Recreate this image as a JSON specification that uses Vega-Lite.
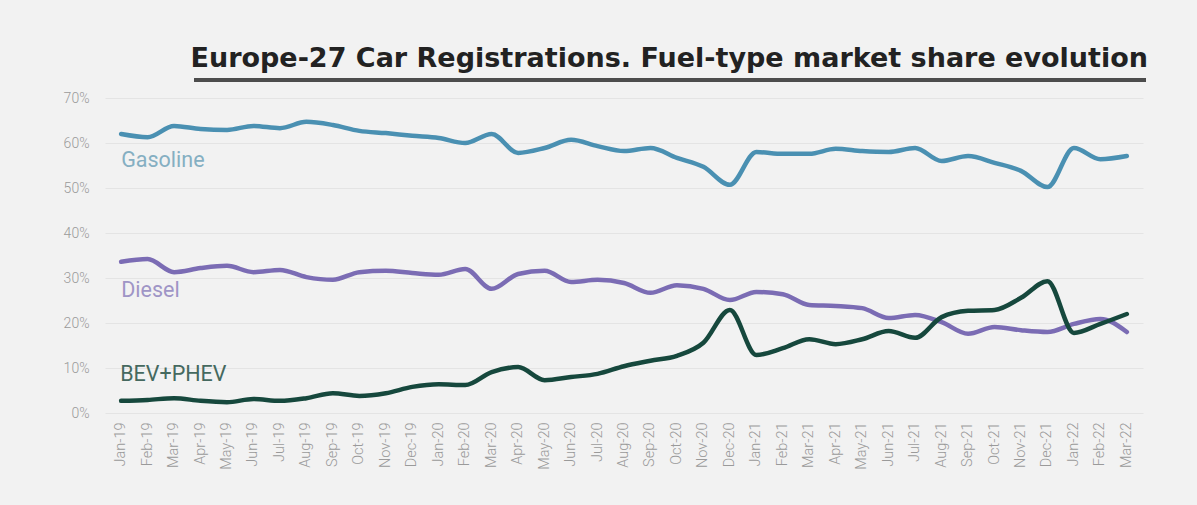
{
  "$schema": "https://vega.github.io/schema/vega-lite/v6.json",
  "autosize": "none",
  "width": 1038,
  "height": 315,
  "padding": {"left": 105, "top": 98, "right": 54, "bottom": 92},
  "background": "#f2f2f2",
  "title": {
    "text": "Europe-27 Car Registrations. Fuel-type market share evolution",
    "anchor": "end",
    "frame": "group",
    "font": "DejaVu Sans",
    "fontSize": 27,
    "fontWeight": "bold",
    "color": "#222222",
    "dx": 5,
    "offset": 6
  },
  "config": {
    "view": {"stroke": null},
    "axis": {"labelFont": "Roboto", "labelFontWeight": 300, "labelColor": "#9a9a9a", "labelFontSize": 14, "gridColor": "#e4e4e4", "domain": false, "ticks": false, "title": null}
  },
  "data": {"values": [
    {"month":"Jan-19","Gasoline":62.0,"Diesel":33.6,"BEV+PHEV":2.7},
    {"month":"Feb-19","Gasoline":61.3,"Diesel":34.2,"BEV+PHEV":2.9},
    {"month":"Mar-19","Gasoline":63.8,"Diesel":31.3,"BEV+PHEV":3.3},
    {"month":"Apr-19","Gasoline":63.1,"Diesel":32.2,"BEV+PHEV":2.7},
    {"month":"May-19","Gasoline":62.9,"Diesel":32.7,"BEV+PHEV":2.4},
    {"month":"Jun-19","Gasoline":63.8,"Diesel":31.3,"BEV+PHEV":3.1},
    {"month":"Jul-19","Gasoline":63.3,"Diesel":31.8,"BEV+PHEV":2.7},
    {"month":"Aug-19","Gasoline":64.7,"Diesel":30.2,"BEV+PHEV":3.3},
    {"month":"Sep-19","Gasoline":64.0,"Diesel":29.6,"BEV+PHEV":4.4},
    {"month":"Oct-19","Gasoline":62.7,"Diesel":31.3,"BEV+PHEV":3.8},
    {"month":"Nov-19","Gasoline":62.2,"Diesel":31.6,"BEV+PHEV":4.4},
    {"month":"Dec-19","Gasoline":61.6,"Diesel":31.1,"BEV+PHEV":5.8},
    {"month":"Jan-20","Gasoline":61.1,"Diesel":30.7,"BEV+PHEV":6.4},
    {"month":"Feb-20","Gasoline":60.0,"Diesel":32.0,"BEV+PHEV":6.2},
    {"month":"Mar-20","Gasoline":62.0,"Diesel":27.6,"BEV+PHEV":9.1},
    {"month":"Apr-20","Gasoline":57.8,"Diesel":30.9,"BEV+PHEV":10.2},
    {"month":"May-20","Gasoline":58.9,"Diesel":31.6,"BEV+PHEV":7.3},
    {"month":"Jun-20","Gasoline":60.7,"Diesel":29.1,"BEV+PHEV":8.0},
    {"month":"Jul-20","Gasoline":59.3,"Diesel":29.6,"BEV+PHEV":8.7},
    {"month":"Aug-20","Gasoline":58.2,"Diesel":28.9,"BEV+PHEV":10.4},
    {"month":"Sep-20","Gasoline":58.9,"Diesel":26.7,"BEV+PHEV":11.6},
    {"month":"Oct-20","Gasoline":56.7,"Diesel":28.4,"BEV+PHEV":12.7},
    {"month":"Nov-20","Gasoline":54.7,"Diesel":27.6,"BEV+PHEV":15.6},
    {"month":"Dec-20","Gasoline":50.7,"Diesel":25.1,"BEV+PHEV":22.9},
    {"month":"Jan-21","Gasoline":58.0,"Diesel":26.9,"BEV+PHEV":12.9},
    {"month":"Feb-21","Gasoline":57.6,"Diesel":26.4,"BEV+PHEV":14.4},
    {"month":"Mar-21","Gasoline":57.6,"Diesel":24.0,"BEV+PHEV":16.4},
    {"month":"Apr-21","Gasoline":58.7,"Diesel":23.8,"BEV+PHEV":15.3},
    {"month":"May-21","Gasoline":58.2,"Diesel":23.3,"BEV+PHEV":16.4},
    {"month":"Jun-21","Gasoline":58.0,"Diesel":21.1,"BEV+PHEV":18.2},
    {"month":"Jul-21","Gasoline":58.9,"Diesel":21.8,"BEV+PHEV":16.7},
    {"month":"Aug-21","Gasoline":56.0,"Diesel":20.2,"BEV+PHEV":21.3},
    {"month":"Sep-21","Gasoline":57.1,"Diesel":17.6,"BEV+PHEV":22.7},
    {"month":"Oct-21","Gasoline":55.6,"Diesel":19.1,"BEV+PHEV":22.9},
    {"month":"Nov-21","Gasoline":53.8,"Diesel":18.4,"BEV+PHEV":25.6},
    {"month":"Dec-21","Gasoline":50.2,"Diesel":18.0,"BEV+PHEV":29.3},
    {"month":"Jan-22","Gasoline":58.9,"Diesel":19.8,"BEV+PHEV":17.8},
    {"month":"Feb-22","Gasoline":56.4,"Diesel":20.9,"BEV+PHEV":19.8},
    {"month":"Mar-22","Gasoline":57.1,"Diesel":18.0,"BEV+PHEV":22.0}
  ]},
  "transform": [
    {"fold": ["Gasoline", "Diesel", "BEV+PHEV"], "as": ["fuel", "share"]}
  ],
  "encoding": {
    "x": {"field": "month", "type": "ordinal", "sort": null, "scale": {"padding": 0.22, "round": false},
      "axis": {"labelAngle": -90, "grid": false, "labelPadding": 9, "labelFontSize": 14.5}},
    "y": {"field": "share", "type": "quantitative", "scale": {"domain": [0, 70]},
      "axis": {"values": [0,10,20,30,40,50,60,70], "labelExpr": "datum.value + '%'", "labelPadding": 16, "gridWidth": 1}}
  },
  "layer": [
    {
      "mark": {"type": "line", "interpolate": "monotone", "strokeWidth": 4.5, "strokeCap": "round"},
      "encoding": {
        "color": {"field": "fuel", "type": "nominal", "legend": null,
          "scale": {"domain": ["Gasoline", "Diesel", "BEV+PHEV"], "range": ["#4a90b2", "#7b6cb4", "#16483d"]}}
      }
    },
    {
      "transform": [{"filter": "datum.month == 'Jan-19' && datum.fuel == 'Gasoline'"}],
      "mark": {"type": "text", "align": "left", "baseline": "middle", "dy": 27, "dx": 0, "font": "Roboto", "fontSize": 21.5, "color": "#85afc2"},
      "encoding": {"text": {"field": "fuel"}}
    },
    {
      "transform": [{"filter": "datum.month == 'Jan-19' && datum.fuel == 'Diesel'"}],
      "mark": {"type": "text", "align": "left", "baseline": "middle", "dy": 29, "dx": 0, "font": "Roboto", "fontSize": 21.5, "color": "#9f95c6"},
      "encoding": {"text": {"field": "fuel"}}
    },
    {
      "transform": [{"filter": "datum.month == 'Jan-19' && datum.fuel == 'BEV+PHEV'"}],
      "mark": {"type": "text", "align": "left", "baseline": "middle", "dy": -26, "dx": -1, "font": "Roboto", "fontSize": 21.5, "color": "#45695f"},
      "encoding": {"text": {"field": "fuel"}}
    },
    {
      "mark": {"type": "rule", "clip": false, "color": "#4d4d4d", "strokeWidth": 2.5, "xOffset": -6, "x2Offset": 19},
      "encoding": {
        "x": {"datum": "Apr-19"},
        "x2": {"datum": "Mar-22"},
        "y": {"datum": 74}
      }
    }
  ]
}
